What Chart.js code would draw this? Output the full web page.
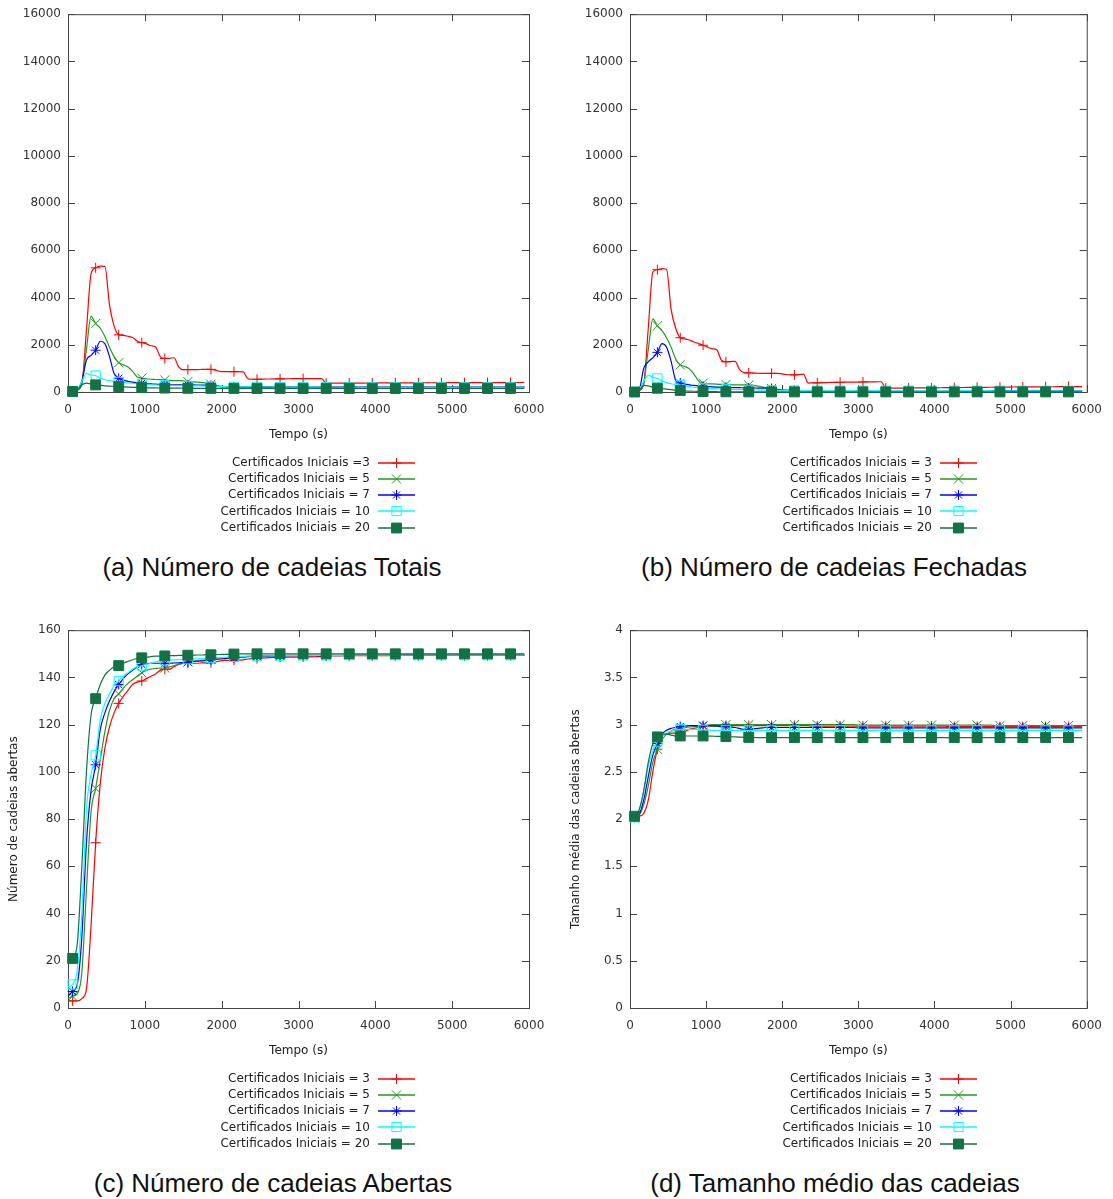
<!DOCTYPE html>
<html lang="pt">
<head>
<meta charset="utf-8">
<title>Cadeias de certificados</title>
<script src="https://cdn.jsdelivr.net/npm/chart.js@4.4.1/dist/chart.umd.min.js"></script>
<style>
  html, body { margin: 0; padding: 0; background: #fff; }
  body { width: 1113px; height: 1199px; position: relative; overflow: hidden; }
  canvas { position: absolute; }
  .cap {
    position: absolute; width: 560px; text-align: center;
    font: 26px "Liberation Sans", Arial, sans-serif; color: #111; line-height: 30px;
  }
</style>
</head>
<body>
<canvas id="chartTotais" width="556" height="545" style="left:0;top:0"></canvas>
<canvas id="chartFechadas" width="551" height="545" style="left:562px;top:0"></canvas>
<canvas id="chartAbertas" width="556" height="545" style="left:0;top:616px"></canvas>
<canvas id="chartTamanho" width="551" height="545" style="left:562px;top:616px"></canvas>

<div class="cap" style="left:-8px;top:552px">(a) Número de cadeias Totais</div>
<div class="cap" style="left:554px;top:552px">(b) Número de cadeias Fechadas</div>
<div class="cap" style="left:-7px;top:1168px">(c) Número de cadeias Abertas</div>
<div class="cap" style="left:555px;top:1168px">(d) Tamanho médio das cadeias</div>

<script>
/*
  Cadeias de certificados ao longo do tempo (4 painéis, estilo gnuplot).
  Dados: amostra a cada 60 s, marcador a cada 300 s.
*/

const $ = (id) => document.getElementById(id);

// tempo (s)
const tempo = [
  0, 60, 120, 180, 240, 300, 360, 420, 480, 540,
  600, 660, 720, 780, 840, 900, 960, 1020, 1080, 1140,
  1200, 1260, 1320, 1380, 1440, 1500, 1560, 1620, 1680, 1740,
  1800, 1860, 1920, 1980, 2040, 2100, 2160, 2220, 2280, 2340,
  2400, 2460, 2520, 2580, 2640, 2700, 2760, 2820, 2880, 2940,
  3000, 3060, 3120, 3180, 3240, 3300, 3360, 3420, 3480, 3540,
  3600, 3660, 3720, 3780, 3840, 3900, 3960, 4020, 4080, 4140,
  4200, 4260, 4320, 4380, 4440, 4500, 4560, 4620, 4680, 4740,
  4800, 4860, 4920, 4980, 5040, 5100, 5160, 5220, 5280, 5340,
  5400, 5460, 5520, 5580, 5640, 5700, 5760, 5820, 5880, 5940
];

// (a) cadeias totais
const totaisC3 = [
  0, 20, 100, 350, 2600, 5000, 5260, 5330, 5320, 3700,
  2800, 2420, 2400, 2360, 2310, 2160, 2090, 2040, 1960, 1910,
  1500, 1420, 1430, 1450, 1060, 940, 950, 950, 950, 955,
  960, 960, 930, 870, 860, 860, 860, 860, 855, 560,
  540, 540, 545, 550, 550, 555, 560, 560, 562, 565,
  565, 568, 570, 570, 570, 570, 370, 372, 373, 375,
  376, 377, 378, 378, 380, 381, 382, 382, 384, 385,
  386, 386, 388, 389, 389, 390, 390, 391, 392, 392,
  393, 394, 394, 395, 396, 396, 397, 397, 398, 398,
  399, 399, 400, 400, 401, 401, 402, 402, 403, 404
];
const totaisC5 = [
  0, 10, 60, 350, 1800, 3200, 2900, 2700, 2350, 1900,
  1500, 1240, 1150, 1060, 870, 640, 590, 560, 540, 530,
  520, 510, 490, 480, 480, 470, 440, 430, 420, 400,
  380, 330, 290, 250, 230, 220, 215, 212, 210, 208,
  207, 206, 205, 205, 204, 204, 203, 203, 203, 202,
  202, 202, 202, 202, 202, 202, 201, 201, 201, 201,
  201, 201, 201, 201, 201, 201, 201, 201, 201, 201,
  200, 200, 200, 200, 200, 200, 200, 200, 200, 200,
  200, 200, 200, 200, 200, 200, 200, 200, 200, 200,
  200, 200, 200, 200, 200, 200, 200, 200, 200, 200
];
const totaisC7 = [
  0, 10, 80, 450, 1350, 1550, 1770, 2150, 2050, 1500,
  780, 580, 500, 450, 420, 390, 370, 350, 340, 330,
  320, 315, 310, 305, 300, 300, 300, 298, 296, 294,
  290, 280, 250, 230, 222, 218, 215, 213, 212, 211,
  210, 210, 210, 210, 210, 210, 210, 210, 210, 210,
  210, 210, 210, 210, 209, 209, 209, 209, 209, 209,
  209, 209, 209, 209, 209, 209, 209, 209, 209, 209,
  208, 208, 208, 208, 208, 208, 208, 208, 208, 208,
  208, 208, 208, 208, 208, 208, 208, 208, 208, 208,
  208, 208, 208, 208, 208, 208, 208, 208, 208, 208
];
const totaisC10 = [
  0, 10, 100, 450, 790, 720, 700, 590, 520, 480,
  450, 430, 410, 390, 370, 350, 330, 320, 310, 300,
  290, 285, 280, 275, 270, 265, 260, 258, 256, 254,
  250, 245, 240, 232, 228, 225, 222, 220, 218, 216,
  215, 214, 213, 212, 211, 210, 209, 208, 207, 206,
  205, 205, 204, 204, 203, 203, 202, 202, 202, 201,
  201, 201, 201, 200, 200, 200, 200, 200, 200, 200,
  200, 200, 200, 200, 200, 200, 200, 200, 200, 200,
  200, 200, 200, 200, 200, 200, 200, 200, 200, 200,
  200, 200, 200, 200, 200, 200, 200, 200, 200, 200
];
const totaisC20 = [
  20, 25, 80, 300, 380, 340, 300, 280, 262, 250,
  240, 230, 220, 210, 200, 192, 186, 180, 176, 172,
  169, 166, 164, 162, 160, 159, 158, 157, 156, 155,
  154, 154, 153, 153, 152, 152, 152, 151, 151, 151,
  150, 150, 150, 150, 150, 150, 150, 150, 150, 150,
  150, 150, 150, 150, 150, 150, 150, 150, 150, 150,
  150, 150, 150, 150, 150, 150, 150, 150, 150, 150,
  150, 150, 150, 150, 150, 150, 150, 150, 150, 150,
  150, 150, 150, 150, 150, 150, 150, 150, 150, 150,
  150, 150, 150, 150, 150, 150, 150, 150, 150, 150
];

// (b) cadeias fechadas
const fechadasC3 = [
  0, 0, 60, 330, 2700, 5080, 5180, 5230, 5200, 3500,
  2700, 2300, 2250, 2200, 2120, 2050, 1980, 1900, 1830, 1790,
  1350, 1280, 1290, 1300, 950, 820, 810, 800, 795, 790,
  790, 790, 790, 780, 740, 730, 725, 740, 760, 380,
  385, 390, 395, 400, 405, 410, 412, 415, 418, 420,
  422, 425, 428, 430, 432, 435, 160, 162, 164, 165,
  167, 168, 170, 172, 173, 175, 176, 178, 180, 182,
  184, 186, 188, 190, 192, 194, 196, 198, 200, 202,
  204, 206, 208, 210, 212, 213, 214, 216, 218, 219,
  220, 221, 222, 223, 224, 225, 226, 227, 228, 228
];
const fechadasC5 = [
  0, 0, 50, 350, 1800, 3100, 2800, 2600, 2300, 1900,
  1400, 1150, 1080, 980, 760, 470, 370, 350, 340, 330,
  320, 318, 310, 300, 300, 298, 292, 280, 250, 210,
  180, 150, 120, 100, 85, 75, 68, 63, 60, 58,
  57, 56, 56, 55, 55, 55, 54, 54, 54, 54,
  53, 53, 53, 53, 53, 53, 53, 53, 53, 53,
  52, 52, 52, 52, 52, 52, 52, 52, 52, 52,
  52, 52, 52, 52, 52, 52, 52, 52, 52, 52,
  51, 51, 51, 51, 51, 51, 51, 51, 51, 51,
  50, 50, 50, 50, 50, 50, 50, 50, 50, 50
];
const fechadasC7 = [
  0, 0, 80, 1000, 1280, 1450, 1680, 2050, 1900, 1300,
  500, 380, 330, 300, 280, 260, 240, 230, 220, 210,
  200, 195, 190, 186, 182, 178, 175, 172, 168, 164,
  160, 150, 110, 80, 70, 65, 62, 60, 58, 57,
  56, 56, 56, 56, 56, 56, 56, 56, 56, 56,
  55, 55, 55, 55, 55, 55, 55, 55, 55, 55,
  55, 55, 55, 55, 55, 55, 55, 55, 55, 55,
  54, 54, 54, 54, 54, 54, 54, 54, 54, 54,
  54, 54, 54, 54, 54, 54, 54, 54, 54, 54,
  53, 53, 53, 53, 53, 53, 53, 53, 53, 53
];
const fechadasC10 = [
  0, 0, 100, 450, 710, 620, 580, 470, 400, 350,
  310, 290, 260, 230, 200, 180, 160, 150, 140, 132,
  125, 118, 112, 106, 100, 96, 92, 88, 84, 80,
  77, 74, 71, 68, 66, 64, 62, 60, 59, 58,
  57, 57, 57, 57, 57, 57, 57, 57, 57, 57,
  56, 56, 56, 56, 56, 56, 56, 56, 56, 56,
  55, 55, 55, 55, 55, 55, 55, 55, 55, 55,
  54, 54, 54, 54, 54, 54, 54, 54, 54, 54,
  53, 53, 53, 53, 53, 53, 53, 53, 53, 53,
  52, 52, 52, 52, 52, 52, 52, 52, 52, 52
];
const fechadasC20 = [
  0, 0, 60, 280, 260, 200, 160, 140, 120, 100,
  80, 65, 50, 40, 32, 26, 21, 17, 14, 12,
  10, 9, 8, 7, 6, 6, 5, 5, 5, 5,
  5, 5, 5, 5, 5, 5, 5, 5, 5, 5,
  5, 5, 5, 5, 5, 5, 5, 5, 5, 5,
  4, 4, 4, 4, 4, 4, 4, 4, 4, 4,
  4, 4, 4, 4, 4, 4, 4, 4, 4, 4,
  4, 4, 4, 4, 4, 4, 4, 4, 4, 4,
  4, 4, 4, 4, 4, 4, 4, 4, 4, 4,
  4, 4, 4, 4, 4, 4, 4, 4, 4, 4
];

// (c) cadeias abertas
const abertasC3 = [
  3, 3, 3, 4, 8, 35, 70, 95, 110, 119,
  125, 129, 132, 134.5, 137, 138, 138.5, 139.5, 140.5, 141.5,
  143, 143.5, 143.5, 144.5, 145.5, 146, 146, 146, 146, 146.2,
  146.2, 146.2, 146.5, 147, 147.2, 147.2, 147.3, 147.3, 147.4, 147.8,
  148, 148, 148.2, 148.3, 148.4, 148.5, 148.5, 148.5, 148.6, 148.6,
  148.6, 148.7, 148.7, 148.7, 148.8, 148.8, 149.1, 149.2, 149.2, 149.2,
  149.2, 149.2, 149.2, 149.2, 149.2, 149.2, 149.2, 149.2, 149.2, 149.2,
  149.3, 149.3, 149.3, 149.3, 149.3, 149.3, 149.3, 149.3, 149.3, 149.3,
  149.3, 149.3, 149.3, 149.3, 149.3, 149.3, 149.3, 149.3, 149.3, 149.3,
  149.4, 149.4, 149.4, 149.4, 149.4, 149.4, 149.4, 149.4, 149.4, 149.4
];
const abertasC5 = [
  4, 5, 6, 15, 50, 83, 93, 105, 117, 126,
  131, 133, 135.5, 137.5, 139, 140.5, 142, 143, 143.5, 143.8,
  144, 144, 144.5, 145, 145.5, 146, 146.5, 146.8, 147, 147.2,
  147.5, 147.7, 147.9, 148.1, 148.3, 148.5, 148.6, 148.7, 148.8, 148.9,
  149, 149, 149.1, 149.1, 149.2, 149.2, 149.3, 149.3, 149.3, 149.4,
  149.4, 149.4, 149.4, 149.4, 149.4, 149.4, 149.4, 149.4, 149.4, 149.4,
  149.5, 149.5, 149.5, 149.5, 149.5, 149.5, 149.5, 149.5, 149.5, 149.5,
  149.5, 149.5, 149.5, 149.5, 149.5, 149.5, 149.5, 149.5, 149.5, 149.5,
  149.5, 149.5, 149.5, 149.5, 149.5, 149.5, 149.5, 149.5, 149.5, 149.5,
  149.5, 149.5, 149.5, 149.5, 149.5, 149.5, 149.5, 149.5, 149.5, 149.5
];
const abertasC7 = [
  5, 7, 10, 30, 70, 92, 103, 118, 125, 130,
  134, 137, 139.5, 141.5, 143, 144.5, 145.5, 145.8, 146, 146,
  146, 146, 146, 146.1, 146.2, 146.3, 146.5, 146.7, 146.9, 147,
  147.2, 147.4, 147.6, 147.8, 148, 148.2, 148.3, 148.5, 148.6, 148.8,
  148.9, 148.9, 149, 149, 149, 149.1, 149.1, 149.1, 149.2, 149.2,
  149.2, 149.2, 149.2, 149.2, 149.2, 149.2, 149.2, 149.2, 149.2, 149.2,
  149.3, 149.3, 149.3, 149.3, 149.3, 149.3, 149.3, 149.3, 149.3, 149.3,
  149.3, 149.3, 149.3, 149.3, 149.3, 149.3, 149.3, 149.3, 149.3, 149.3,
  149.3, 149.3, 149.3, 149.3, 149.3, 149.3, 149.3, 149.3, 149.3, 149.3,
  149.3, 149.3, 149.3, 149.3, 149.3, 149.3, 149.3, 149.3, 149.3, 149.3
];
const abertasC10 = [
  9, 10, 16, 40, 84, 99, 107, 122, 129, 133,
  136.5, 138.5, 140.5, 142, 143.5, 144.5, 145, 145.5, 146, 146.5,
  147, 147.2, 147.3, 147.4, 147.5, 147.6, 147.7, 147.8, 147.9, 148,
  148.1, 148.2, 148.3, 148.4, 148.5, 148.6, 148.7, 148.8, 148.9, 149,
  149, 149, 149.1, 149.1, 149.1, 149.2, 149.2, 149.2, 149.3, 149.3,
  149.3, 149.3, 149.3, 149.3, 149.3, 149.3, 149.3, 149.3, 149.3, 149.3,
  149.4, 149.4, 149.4, 149.4, 149.4, 149.4, 149.4, 149.4, 149.4, 149.4,
  149.4, 149.4, 149.4, 149.4, 149.4, 149.4, 149.4, 149.4, 149.4, 149.4,
  149.4, 149.4, 149.4, 149.4, 149.4, 149.4, 149.4, 149.4, 149.4, 149.4,
  149.4, 149.4, 149.4, 149.4, 149.4, 149.4, 149.4, 149.4, 149.4, 149.4
];
const abertasC20 = [
  20, 21, 27, 60, 100, 124, 131, 137, 141, 143,
  144.5, 145, 146, 146.8, 147.5, 148, 148.3, 148.6, 148.8, 149,
  149, 149.1, 149.2, 149.2, 149.3, 149.3, 149.4, 149.4, 149.5, 149.5,
  149.6, 149.6, 149.7, 149.7, 149.8, 149.8, 149.9, 149.9, 150, 150,
  150, 150, 150, 150, 150, 150, 150, 150, 150, 150,
  150, 150, 150, 150, 150, 150, 150, 150, 150, 150,
  150, 150, 150, 150, 150, 150, 150, 150, 150, 150,
  150, 150, 150, 150, 150, 150, 150, 150, 150, 150,
  150, 150, 150, 150, 150, 150, 150, 150, 150, 150,
  150, 150, 150, 150, 150, 150, 150, 150, 150, 150
];

// (d) tamanho médio das cadeias abertas
const tamanhoC3 = [
  2.02, 2.02, 2.03, 2.06, 2.2, 2.5, 2.74, 2.88, 2.9, 2.91,
  2.91, 2.91, 2.93, 2.95, 2.96, 2.97, 2.98, 2.985, 2.99, 2.99,
  2.99, 2.99, 2.99, 2.99, 2.99, 2.99, 2.99, 2.99, 2.99, 2.99,
  2.99, 2.99, 2.99, 2.99, 2.99, 2.99, 2.99, 2.99, 2.99, 2.99,
  2.985, 2.985, 2.985, 2.985, 2.985, 2.985, 2.985, 2.985, 2.985, 2.985,
  2.985, 2.985, 2.985, 2.985, 2.985, 2.985, 2.985, 2.985, 2.985, 2.985,
  2.985, 2.985, 2.985, 2.985, 2.985, 2.985, 2.985, 2.985, 2.985, 2.985,
  2.98, 2.98, 2.98, 2.98, 2.98, 2.98, 2.98, 2.98, 2.98, 2.98,
  2.98, 2.98, 2.98, 2.98, 2.98, 2.98, 2.98, 2.98, 2.98, 2.98,
  2.98, 2.98, 2.98, 2.98, 2.98, 2.98, 2.98, 2.98, 2.98, 2.98
];
const tamanhoC5 = [
  2.0, 2.01, 2.04, 2.15, 2.35, 2.6, 2.74, 2.84, 2.9, 2.93,
  2.95, 2.96, 2.97, 2.975, 2.98, 2.985, 2.99, 2.995, 3.0, 3.0,
  3.0, 3.0, 3.0, 3.0, 3.0, 3.0, 3.0, 3.0, 3.0, 3.0,
  3.0, 3.0, 3.0, 3.0, 3.0, 3.0, 3.0, 3.0, 3.0, 3.0,
  3.0, 3.0, 3.0, 3.0, 3.0, 3.0, 3.0, 3.0, 3.0, 3.0,
  2.995, 2.995, 2.995, 2.995, 2.995, 2.995, 2.995, 2.995, 2.995, 2.995,
  2.995, 2.995, 2.995, 2.995, 2.995, 2.995, 2.995, 2.995, 2.995, 2.995,
  2.995, 2.995, 2.995, 2.995, 2.995, 2.995, 2.995, 2.995, 2.995, 2.995,
  2.99, 2.99, 2.99, 2.99, 2.99, 2.99, 2.99, 2.99, 2.99, 2.99,
  2.99, 2.99, 2.99, 2.99, 2.99, 2.99, 2.99, 2.99, 2.99, 2.99
];
const tamanhoC7 = [
  2.01, 2.02, 2.05, 2.2, 2.45, 2.68, 2.8, 2.9, 2.94, 2.96,
  2.97, 2.98, 2.985, 2.99, 2.99, 2.99, 2.99, 2.99, 2.985, 2.985,
  2.98, 2.98, 2.975, 2.97, 2.96, 2.95, 2.95, 2.955, 2.96, 2.965,
  2.97, 2.97, 2.97, 2.97, 2.97, 2.97, 2.97, 2.97, 2.97, 2.97,
  2.97, 2.97, 2.97, 2.97, 2.97, 2.97, 2.97, 2.97, 2.97, 2.97,
  2.965, 2.965, 2.965, 2.965, 2.965, 2.965, 2.965, 2.965, 2.965, 2.965,
  2.965, 2.965, 2.965, 2.965, 2.965, 2.965, 2.965, 2.965, 2.965, 2.965,
  2.965, 2.965, 2.965, 2.965, 2.965, 2.965, 2.965, 2.965, 2.965, 2.965,
  2.965, 2.965, 2.965, 2.965, 2.965, 2.965, 2.965, 2.965, 2.965, 2.965,
  2.965, 2.965, 2.965, 2.965, 2.965, 2.965, 2.965, 2.965, 2.965, 2.965
];
const tamanhoC10 = [
  2.0, 2.02, 2.08, 2.3, 2.56, 2.72, 2.82, 2.88, 2.91, 2.93,
  2.94, 2.95, 2.95, 2.95, 2.95, 2.95, 2.945, 2.945, 2.94, 2.94,
  2.94, 2.94, 2.94, 2.94, 2.94, 2.94, 2.94, 2.94, 2.94, 2.94,
  2.94, 2.94, 2.94, 2.94, 2.94, 2.94, 2.94, 2.94, 2.94, 2.94,
  2.94, 2.94, 2.94, 2.94, 2.94, 2.94, 2.94, 2.94, 2.94, 2.94,
  2.94, 2.94, 2.94, 2.94, 2.94, 2.94, 2.94, 2.94, 2.94, 2.94,
  2.94, 2.94, 2.94, 2.94, 2.94, 2.94, 2.94, 2.94, 2.94, 2.94,
  2.94, 2.94, 2.94, 2.94, 2.94, 2.94, 2.94, 2.94, 2.94, 2.94,
  2.94, 2.94, 2.94, 2.94, 2.94, 2.94, 2.94, 2.94, 2.94, 2.94,
  2.94, 2.94, 2.94, 2.94, 2.94, 2.94, 2.94, 2.94, 2.94, 2.94
];
const tamanhoC20 = [
  2.02, 2.03, 2.1, 2.3, 2.6, 2.8, 2.87, 2.9, 2.9, 2.89,
  2.88, 2.88, 2.88, 2.88, 2.88, 2.88, 2.88, 2.88, 2.878, 2.876,
  2.875, 2.874, 2.872, 2.87, 2.868, 2.866, 2.865, 2.864, 2.863, 2.862,
  2.863, 2.863, 2.863, 2.863, 2.863, 2.863, 2.863, 2.863, 2.863, 2.863,
  2.863, 2.863, 2.863, 2.863, 2.863, 2.863, 2.863, 2.863, 2.863, 2.863,
  2.863, 2.863, 2.863, 2.863, 2.863, 2.863, 2.863, 2.863, 2.863, 2.863,
  2.863, 2.863, 2.863, 2.863, 2.863, 2.863, 2.863, 2.863, 2.863, 2.863,
  2.863, 2.863, 2.863, 2.863, 2.863, 2.863, 2.863, 2.863, 2.863, 2.863,
  2.863, 2.863, 2.863, 2.863, 2.863, 2.863, 2.863, 2.863, 2.863, 2.863,
  2.863, 2.863, 2.863, 2.863, 2.863, 2.863, 2.863, 2.863, 2.863, 2.863
];

const legendaA = [
  'Certificados Iniciais =3',
  'Certificados Iniciais = 5',
  'Certificados Iniciais = 7',
  'Certificados Iniciais = 10',
  'Certificados Iniciais = 20',
];
const legenda = [
  'Certificados Iniciais = 3',
  'Certificados Iniciais = 5',
  'Certificados Iniciais = 7',
  'Certificados Iniciais = 10',
  'Certificados Iniciais = 20',
];

// estilo das séries (gnuplot: +, x, *, quadrado vazio, quadrado cheio)
const CORES = ['#ff0000', '#229922', '#0000ff', '#00ffff', '#137244'];
const MARCAS = ['cross', 'crossRot', 'star', 'rect', 'rect'];
const RAIOS = [5, 6.5, 5, 6.5, 7];
const CHEIO = [false, false, false, false, true];

Chart.defaults.font.family = '"DejaVu Sans", Verdana, sans-serif';
Chart.defaults.font.size = 12;
Chart.defaults.color = '#333';

function drawMarker(ctx, style, x, y, r, color, filled){
  ctx.strokeStyle = color;
  ctx.fillStyle = color;
  ctx.lineWidth = 1;
  ctx.beginPath();
  if(style === 'cross' || style === 'star'){
    ctx.moveTo(x - r, y); ctx.lineTo(x + r, y);
    ctx.moveTo(x, y - r); ctx.lineTo(x, y + r);
  }
  if(style === 'crossRot' || style === 'star'){
    const d = r * Math.SQRT1_2;
    ctx.moveTo(x - d, y - d); ctx.lineTo(x + d, y + d);
    ctx.moveTo(x - d, y + d); ctx.lineTo(x + d, y - d);
  }
  if(style === 'rect'){
    const s = r * Math.SQRT1_2;
    ctx.rect(x - s, y - s, 2 * s, 2 * s);
    if(filled) ctx.fill();
  }
  ctx.stroke();
}

// moldura com marcas para dentro, títulos dos eixos e legenda
const gnuplotLook = {
  id: 'gnuplotLook',
  beforeDatasetsDraw(chart){
    const { ctx, chartArea: a, scales } = chart;
    ctx.save();
    ctx.strokeStyle = '#444';
    ctx.lineWidth = 1;
    ctx.strokeRect(a.left + 0.5, a.top + 0.5, a.right - a.left, a.bottom - a.top);
    ctx.beginPath();
    scales.x.ticks.forEach(t => {
      const px = Math.round(scales.x.getPixelForValue(t.value)) + 0.5;
      ctx.moveTo(px, a.bottom); ctx.lineTo(px, a.bottom - 7);
      ctx.moveTo(px, a.top); ctx.lineTo(px, a.top + 7);
    });
    scales.y.ticks.forEach(t => {
      const py = Math.round(scales.y.getPixelForValue(t.value)) + 0.5;
      ctx.moveTo(a.left, py); ctx.lineTo(a.left + 7, py);
      ctx.moveTo(a.right, py); ctx.lineTo(a.right - 7, py);
    });
    ctx.stroke();
    ctx.restore();
  },
  afterDraw(chart, args, opts){
    const { ctx, chartArea: a } = chart;
    ctx.save();
    ctx.font = '12px "DejaVu Sans", Verdana, sans-serif';
    ctx.fillStyle = '#222';
    ctx.textAlign = 'center';
    ctx.textBaseline = 'middle';
    ctx.fillText(opts.xTitle, (a.left + a.right) / 2, a.bottom + 43);

    if(opts.yTitle){
      ctx.save();
      ctx.translate(14, (a.top + a.bottom) / 2);
      ctx.rotate(-Math.PI / 2);
      ctx.fillText(opts.yTitle, 0, 0);
      ctx.restore();
    }

    ctx.textAlign = 'right';
    opts.labels.forEach((lbl, i) => {
      const y = a.bottom + 70.5 + i * 16.3;
      const ly = Math.round(y);
      ctx.fillStyle = '#222';
      ctx.fillText(lbl, 370, y);
      ctx.strokeStyle = CORES[i];
      ctx.lineWidth = 1.4;
      ctx.beginPath();
      ctx.moveTo(378, ly);
      ctx.lineTo(415, ly);
      ctx.stroke();
      drawMarker(ctx, MARCAS[i], 396.5, ly, RAIOS[i], CORES[i], CHEIO[i]);
    });
    ctx.restore();
  }
};

function buildChart(canvasId, series, labels, yMax, yStep, yTitle, padRight){
  const datasets = series.map((vals, i) => ({
    label: labels[i],
    data: tempo.map((t, k) => ({ x: t, y: vals[k] })),
    borderColor: CORES[i],
    borderWidth: 1.2,
    backgroundColor: CORES[i],
    pointStyle: MARCAS[i],
    pointBorderColor: CORES[i],
    pointBackgroundColor: CHEIO[i] ? CORES[i] : 'rgba(0,0,0,0)',
    pointBorderWidth: 1,
    pointRadius: (c) => (c.dataIndex % 5 === 1 ? RAIOS[i] : 0),
    pointHoverRadius: 0,
    cubicInterpolationMode: 'monotone',
    fill: false,
    clip: false,
    order: series.length - i,
  }));

  return new Chart($(canvasId), {
    type: 'line',
    data: { datasets },
    plugins: [gnuplotLook],
    options: {
      responsive: false,
      animation: false,
      events: [],
      layout: { padding: { left: 0, top: 13, right: padRight, bottom: 103 } },
      plugins: {
        legend: { display: false },
        tooltip: { enabled: false },
        gnuplotLook: { xTitle: 'Tempo (s)', yTitle, labels },
      },
      scales: {
        x: {
          type: 'linear', min: 0, max: 6000,
          grid: { display: false, drawTicks: false },
          border: { display: false },
          ticks: { stepSize: 1000, padding: 11, maxRotation: 0, autoSkip: false, callback: (v) => String(v) },
          afterFit: (s) => { s.height = 50; },
        },
        y: {
          min: 0, max: yMax,
          grid: { display: false, drawTicks: false },
          border: { display: false },
          ticks: { stepSize: yStep, padding: 7, autoSkip: false, callback: (v) => String(v) },
          afterFit: (s) => { s.width = 68; },
        },
      },
    },
  });
}

buildChart('chartTotais',
  [totaisC3, totaisC5, totaisC7, totaisC10, totaisC20],
  legendaA, 16000, 2000, null, 27);
buildChart('chartFechadas',
  [fechadasC3, fechadasC5, fechadasC7, fechadasC10, fechadasC20],
  legenda, 16000, 2000, null, 21);
buildChart('chartAbertas',
  [abertasC3, abertasC5, abertasC7, abertasC10, abertasC20],
  legenda, 160, 20, 'Número de cadeias abertas', 27);
buildChart('chartTamanho',
  [tamanhoC3, tamanhoC5, tamanhoC7, tamanhoC10, tamanhoC20],
  legenda, 4, 0.5, 'Tamanho média das cadeias abertas', 21);
</script>
</body>
</html>
